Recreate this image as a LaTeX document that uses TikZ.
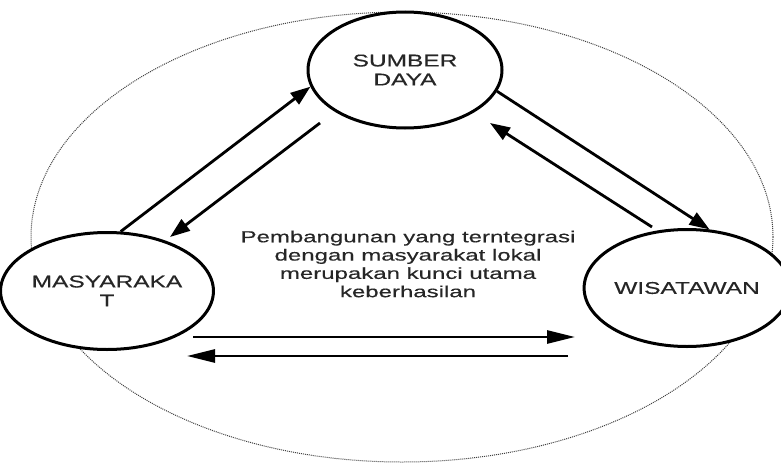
\documentclass[tikz,border=0pt]{standalone}
\usepackage{fontspec}
\setmainfont{Liberation Sans}[FakeStretch=1.5, FakeBold=0.4]
\newfontfamily\hurufbulat{Liberation Sans}[FakeStretch=1.44, FakeBold=0.4]
\usetikzlibrary{shapes.geometric, arrows.meta}

\tikzset{
  bulat/.style={draw, ellipse, fill=white, line width=3pt, inner sep=0pt,
    align=center, text=black!85, font=\hurufbulat\fontsize{17}{19}\selectfont},
  panah/.style={line width=2.8pt, -{Triangle[length=20pt, width=14pt]}},
  panahdatar/.style={line width=2.8pt, -{Triangle[length=28pt, width=13pt]}}
}

\begin{document}
\begin{tikzpicture}[x=1pt, y=-1pt]
\useasboundingbox (0,0) rectangle (781,463);
% lingkaran luar
\draw[densely dotted, line width=1pt, black!75] (402,237) ellipse (371pt and 225pt);

\node[bulat, minimum width=194pt, minimum height=116pt] (sumber) at (405,70) {SUMBER\\DAYA};
\node[bulat, minimum width=188pt, minimum height=117pt] (masy) at (107,291) {MASYARAKA\\T};
\node[bulat, minimum width=181pt, minimum height=117pt] (wisata) at (687,288) {WISATAWAN};

\node[align=center, text=black!85, font=\fontsize{16}{18.3}\selectfont] (teks) at (408,264)
  {Pembangunan yang terntegrasi\\dengan masyarakat lokal\\merupakan kunci utama\\keberhasilan};

\coordinate (s1) at (320,123);
\coordinate (m1) at (170,237);
\coordinate (w1) at (652,227);
\coordinate (s2) at (490,123);
\coordinate (h1) at (193,337);
\coordinate (h2) at (575,337);
\coordinate (h3) at (568,356);
\coordinate (h4) at (187,356);

\draw[panah] (masy.77) -- (sumber.190);
\draw[panah] (s1) -- (m1);
\draw[panah] (sumber.-13) -- (wisata.69);
\draw[panah] (w1) -- (s2);
\draw[panahdatar] (h1) -- (h2);
\draw[panahdatar] (h3) -- (h4);
\end{tikzpicture}
\end{document}
